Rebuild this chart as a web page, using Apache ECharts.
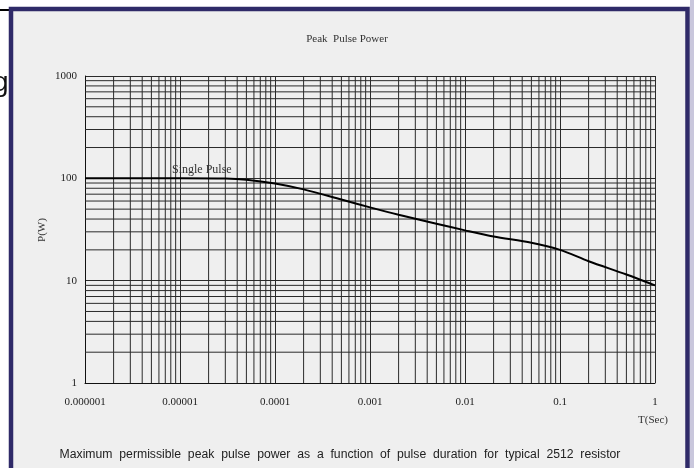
<!DOCTYPE html>
<html>
<head>
<meta charset="utf-8">
<script src="https://cdn.jsdelivr.net/npm/echarts@6/dist/echarts.min.js"></script>
<style>
html,body{margin:0;padding:0;background:#ffffff;}
#chart{width:694px;height:468px;}
</style>
</head>
<body>
<div id="chart"></div>
<script>
// Data
const pulseDuration = [0.000001, 0.00001, 0.00003, 0.00005, 0.0001, 0.0002, 0.0005, 0.001, 0.002, 0.005, 0.01, 0.02, 0.05, 0.1, 0.2, 0.5, 1];
const peakPower     = [100, 100, 99.5, 97, 89, 78, 62, 52, 44, 36, 31, 27, 23.5, 20, 15.5, 11.5, 9];
const xTickLabels = ['0.000001', '0.00001', '0.0001', '0.001', '0.01', '0.1', '1'];
const yTickLabels = ['1', '10', '100', '1000'];
const minorMultipliers = [2, 3, 4, 5, 6, 7, 8, 9];
const xDecades = [0.000001, 0.00001, 0.0001, 0.001, 0.01, 0.1];
const yDecades = [1, 10, 100];

const X_MIN = 0.000001, X_MAX = 1, Y_MIN = 1, Y_MAX = 1000;
const seriesData = pulseDuration.map((t, i) => [t, peakPower[i]]);
const gridColor = '#2a2a2a';

// minor grid lines drawn as thin line series through the axes' scales
const gridSeries = [];
xDecades.forEach(d => minorMultipliers.forEach(m => {
  const v = d * m;
  gridSeries.push({ type: 'line', data: [[v, Y_MIN], [v, Y_MAX]], silent: true, showSymbol: false, z: 1,
    lineStyle: { color: gridColor, width: 1 }, emphasis: { disabled: true } });
}));
yDecades.forEach(d => minorMultipliers.forEach(m => {
  const v = d * m;
  gridSeries.push({ type: 'line', data: [[X_MIN, v], [X_MAX, v]], silent: true, showSymbol: false, z: 1,
    lineStyle: { color: gridColor, width: 1 }, emphasis: { disabled: true } });
}));

const serif = '"Liberation Serif", "DejaVu Serif", serif';
const chart = echarts.init(document.getElementById('chart'));
chart.setOption({
  animation: false,
  backgroundColor: '#ffffff',
  grid: { left: 85, right: 39, top: 76, bottom: 85, containLabel: false },
  xAxis: {
    type: 'log', logBase: 10, min: X_MIN, max: X_MAX,
    axisLine: { show: true, lineStyle: { color: '#111', width: 1 } },
    axisTick: { show: false },
    splitLine: { show: true, lineStyle: { color: gridColor, width: 1 } },
    axisLabel: {
      margin: 14, color: '#222', fontFamily: serif, fontSize: 11,
      formatter: v => {
        const k = Math.round(Math.log10(v));
        return xTickLabels[k + 6] || '';
      }
    }
  },
  yAxis: {
    type: 'log', logBase: 10, min: Y_MIN, max: Y_MAX,
    axisLine: { show: true, lineStyle: { color: '#111', width: 1 } },
    axisTick: { show: false },
    splitLine: { show: true, lineStyle: { color: gridColor, width: 1 } },
    axisLabel: {
      margin: 8, color: '#222', fontFamily: serif, fontSize: 11,
      formatter: v => {
        const k = Math.round(Math.log10(v));
        return yTickLabels[k] || '';
      }
    }
  },
  graphic: [
    { type: 'rect', z: -10, shape: { x: 0, y: 9, width: 10, height: 2 }, style: { fill: '#000' } },
    { type: 'text', z: -10, x: -7, y: 83, style: { text: 'g', font: '28px "Liberation Sans", Arial, sans-serif', fill: '#111', verticalAlign: 'middle' } },
    { type: 'rect', z: -10, shape: { x: 690, y: 0, width: 4, height: 468 }, style: { fill: '#c9c7dc' } },
    { type: 'rect', z: -9, shape: { x: 11, y: 9, width: 676.5, height: 470 }, style: { fill: '#efefef', stroke: '#2f2a68', lineWidth: 4.5 } },
    { type: 'text', left: 'center', top: 34, style: { text: 'Peak  Pulse Power', font: '11px ' + serif, fill: '#333' } },
    { type: 'text', left: 172, top: 164, z: 10, style: { text: 'Single Pulse', font: '12px ' + serif, fill: '#333' } },
    { type: 'text', left: 638, top: 415, style: { text: 'T(Sec)', font: '11px ' + serif, fill: '#333' } },
    { type: 'text', x: 42, y: 230, rotation: Math.PI / 2, style: { text: 'P(W)', font: '11px ' + serif, fill: '#333', align: 'center', verticalAlign: 'middle' } },
    { type: 'text', x: 340, y: 455, scaleX: 1.018, style: { text: 'Maximum  permissible  peak  pulse  power  as  a  function  of  pulse  duration  for  typical  2512  resistor', font: '12px "Liberation Sans", Arial, sans-serif', fill: '#222', align: 'center', verticalAlign: 'middle' } }
  ],
  series: gridSeries.concat([
    {
      type: 'line', data: seriesData, smooth: 0.3, showSymbol: false, z: 5,
      lineStyle: { color: '#000', width: 2 }
    }
  ])
});
</script>
</body>
</html>
